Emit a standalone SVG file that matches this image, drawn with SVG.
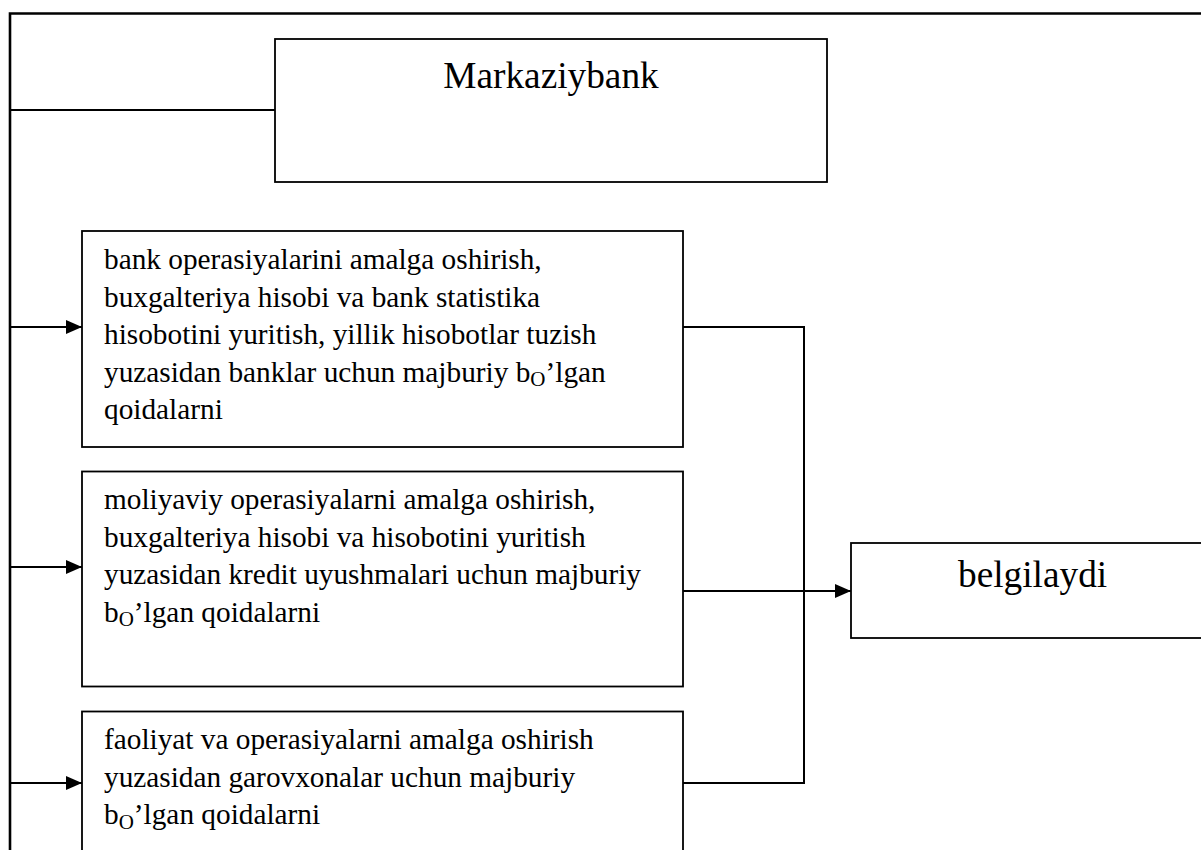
<svg xmlns="http://www.w3.org/2000/svg" width="1201" height="850" viewBox="0 0 1201 850">
<style>
.box{fill:#fff;stroke:#000;stroke-width:1.8}
.ln{fill:none;stroke:#000;stroke-width:2}
.frame{fill:none;stroke:#000;stroke-width:2.6}
.t{font-family:"Liberation Serif","Times New Roman",serif;font-size:29.3px;fill:#000}
.big{font-family:"Liberation Serif","Times New Roman",serif;font-size:37.3px;fill:#000}
.sub{font-size:21px}
</style>
<defs>
<marker id="arr" markerWidth="17" markerHeight="14" refX="16" refY="7" orient="auto" markerUnits="userSpaceOnUse">
<path d="M0,0 L16,7 L0,14 Z" fill="#000"/>
</marker>
</defs>
<rect width="1201" height="850" fill="#fff"/>
<g id="connectors">
<path class="frame" d="M10,852 V13.5 H1205"/>
<path class="ln" d="M10,110 H275"/>
<path class="ln" d="M10,327 H82" marker-end="url(#arr)"/>
<path class="ln" d="M10,567 H82" marker-end="url(#arr)"/>
<path class="ln" d="M10,783 H82" marker-end="url(#arr)"/>
<path class="ln" d="M683,327 H804 V783 H683"/>
<path class="ln" d="M683,591 H851" marker-end="url(#arr)"/>
</g>
<g id="markaziybank">
<rect class="box" x="275" y="39" width="552" height="143"/>
<text class="big" x="551" y="88" text-anchor="middle">Markaziybank</text>
</g>
<g id="box1">
<rect class="box" x="82" y="231" width="601" height="216"/>
<text class="t" x="104" y="269">bank operasiyalarini amalga oshirish,</text>
<text class="t" x="104" y="306.5">buxgalteriya hisobi va bank statistika</text>
<text class="t" x="104" y="344">hisobotini yuritish, yillik hisobotlar tuzish</text>
<text class="t" x="104" y="381.5">yuzasidan banklar uchun majburiy b<tspan class="sub" dy="4.5">O</tspan><tspan dy="-4.5">’lgan</tspan></text>
<text class="t" x="104" y="419">qoidalarni</text>
</g>
<g id="box2">
<rect class="box" x="82" y="471.5" width="601" height="215"/>
<text class="t" x="104" y="509">moliyaviy operasiyalarni amalga oshirish,</text>
<text class="t" x="104" y="546.5">buxgalteriya hisobi va hisobotini yuritish</text>
<text class="t" x="104" y="584">yuzasidan kredit uyushmalari uchun majburiy</text>
<text class="t" x="104" y="621.5">b<tspan class="sub" dy="4.5">O</tspan><tspan dy="-4.5">’lgan qoidalarni</tspan></text>
</g>
<g id="box3">
<rect class="box" x="82" y="711.5" width="601" height="160"/>
<text class="t" x="104" y="749">faoliyat va operasiyalarni amalga oshirish</text>
<text class="t" x="104" y="786.5">yuzasidan garovxonalar uchun majburiy</text>
<text class="t" x="104" y="824">b<tspan class="sub" dy="4.5">O</tspan><tspan dy="-4.5">’lgan qoidalarni</tspan></text>
</g>
<g id="belgilaydi">
<rect class="box" x="851" y="543" width="370" height="95"/>
<text class="big" x="958" y="587">belgilaydi</text>
</g>
</svg>
